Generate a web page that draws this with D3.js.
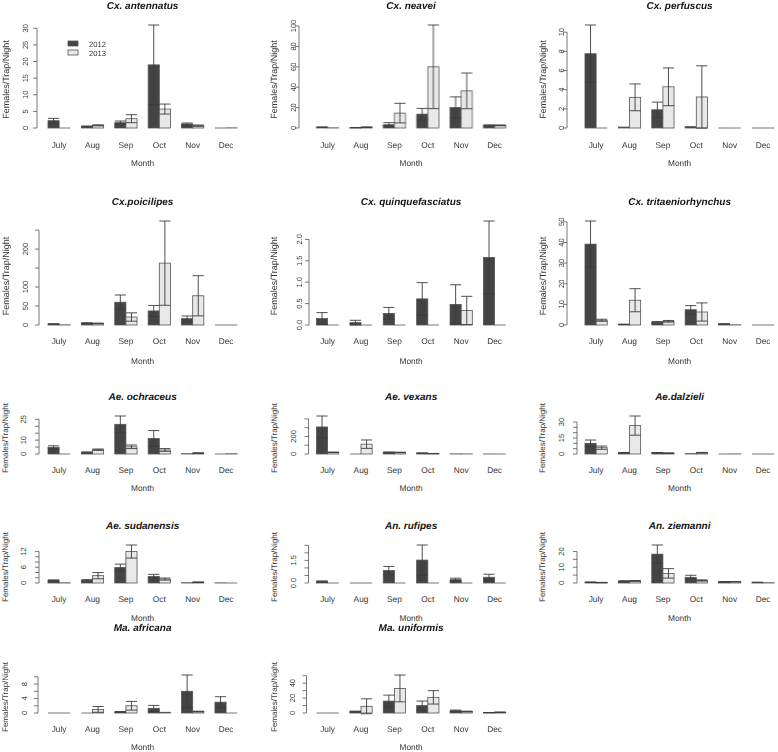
<!doctype html>
<html>
<head>
<meta charset="utf-8"/>
<script src="https://cdnjs.cloudflare.com/ajax/libs/d3/7.8.5/d3.min.js"></script>
<style>
  body { margin: 0; background: #fff; }
  text { font-family: "Liberation Sans", Arial, sans-serif; fill: #333; text-rendering: geometricPrecision; }
  .title { font-weight: bold; font-style: italic; font-size: 10px; fill: #111; }
  .tick-label { font-size: 7.5px; }
  .month { font-size: 8.3px; }
  .legend { font-size: 7.6px; }
  .axis-title { font-size: 8px; }
  .txt { opacity: 0.99; }
</style>
</head>
<body>
<svg id="chart" width="778" height="752"></svg>
<script>
var months = ["July", "Aug", "Sep", "Oct", "Nov", "Dec"];
var years = ["2012", "2013"];
var species = ["Cx. antennatus", "Cx. neavei", "Cx. perfuscus",
  "Cx.poicilipes", "Cx. quinquefasciatus", "Cx. tritaeniorhynchus",
  "Ae. ochraceus", "Ae. vexans", "Ae.dalzieli",
  "Ae. sudanensis", "An. rufipes", "An. ziemanni",
  "Ma. africana", "Ma. uniformis"];

// mean females/trap/night, July..Dec
var mean2012 = [
  [2.2, 0.5, 1.6, 19, 1.2, 0],
  [0.8, 0.3, 3.2, 13.6, 20, 2.6],
  [7.75, 0.1, 1.9, 0.15, 0, 0],
  [2.6, 5, 60, 37, 16.7, 0],
  [0.15, 0.055, 0.27, 0.61, 0.48, 1.58],
  [39.2, 0.3, 1.3, 7.4, 0.5, 0],
  [4.8, 1.2, 21.4, 11.2, 0.2, 0],
  [308, 0, 20, 10, 1, 0.5],
  [10, 1.2, 1.2, 0.3, 0, 0],
  [1, 1, 5.9, 2.5, 0.1, 0.05],
  [0.1, 0, 0.83, 1.52, 0.22, 0.38],
  [0.5, 1.2, 18.3, 3.6, 0.8, 0.4],
  [0, 0, 0.3, 1.3, 6, 3],
  [0, 2, 16, 10, 3, 0.5]
];
var mean2013 = [
  [0, 0.8, 2.8, 5.7, 0.7, 0.05],
  [0.2, 0.8, 14.6, 60, 36.4, 2.6],
  [0, 3.2, 4.3, 3.24, 0, 0],
  [0.5, 4, 21, 163, 77, 0],
  [0, 0, 0, 0, 0.34, 0],
  [2.3, 12, 1.8, 6.3, 0.1, 0],
  [0, 3.1, 5.2, 2.9, 0.7, 0.2],
  [19, 112, 18, 5, 1, 0],
  [5.9, 26.6, 0.8, 1.2, 0.1, 0],
  [0.1, 2.8, 12, 1.5, 0.3, 0],
  [0, 0, 0, 0, 0, 0],
  [0.3, 1.3, 6.1, 1.6, 0.8, 0.2],
  [0, 1, 2, 0.2, 0.4, 0],
  [0, 9, 33, 21, 2, 1]
];
// standard errors
var se2012 = [
  [0.7, 0.1, 0.5, 12, 0.3, 0],
  [0.2, 0.1, 2, 5.6, 10.5, 0.5],
  [3, 0, 0.8, 0, 0, 0],
  [0.5, 1, 19, 14.5, 7, 0],
  [0.14, 0.055, 0.14, 0.38, 0.46, 0.85],
  [11.2, 0.1, 0.4, 2, 0.1, 0],
  [1.1, 0.3, 6, 5.7, 0, 0],
  [125, 0, 3, 2, 0, 0],
  [3.1, 0.2, 0.2, 0, 0, 0],
  [0.2, 0.3, 1.3, 0.8, 0, 0],
  [0.04, 0, 0.27, 1.0, 0.1, 0.2],
  [0.1, 0.2, 5.8, 1.3, 0.1, 0.1],
  [0, 0, 0.1, 0.8, 4.5, 1.5],
  [0, 0.5, 8, 6, 1, 0.2]
];
var se2013 = [
  [0, 0.15, 1.2, 1.5, 0.2, 0],
  [0, 0.2, 9.6, 41, 17.5, 0.4],
  [0, 1.4, 1.97, 3.25, 0, 0],
  [0, 1, 11, 111, 53, 0],
  [0, 0, 0, 0, 0.33, 0],
  [0.5, 5.6, 0.4, 4.4, 0, 0],
  [0, 0.5, 1.3, 1, 0.1, 0],
  [3, 48, 3, 1, 0, 0],
  [1.5, 9, 0.1, 0.3, 0, 0],
  [0, 1.2, 2.5, 0.4, 0.1, 0],
  [0, 0, 0, 0, 0, 0],
  [0.1, 0.3, 3, 0.4, 0.1, 0],
  [0, 0.8, 1.2, 0, 0.1, 0],
  [0, 10, 18, 9, 0.5, 0.3]
];
// y ticks drawn, and the ones that carry a label
var yTicks = [
  [0, 5, 10, 15, 20, 25, 30],
  [0, 20, 40, 60, 80, 100],
  [0, 2, 4, 6, 8, 10],
  [0, 50, 100, 150, 200, 250],
  [0, 0.5, 1, 1.5, 2],
  [0, 10, 20, 30, 40, 50],
  [0, 5, 10, 15, 20, 25],
  [0, 100, 200, 300, 400],
  [0, 5, 10, 15, 20, 25, 30],
  [0, 2, 4, 6, 8, 10, 12],
  [0, 0.5, 1, 1.5, 2, 2.5],
  [0, 5, 10, 15, 20],
  [0, 2, 4, 6, 8, 10],
  [0, 10, 20, 30, 40, 50]
];
var yLabels = [
  [0, 5, 10, 15, 20, 25, 30],
  [0, 20, 40, 60, 80, 100],
  [0, 2, 4, 6, 8, 10],
  [0, 50, 100, 200],
  [0, 0.5, 1, 1.5, 2],
  [0, 10, 20, 30, 40, 50],
  [0, 10, 25],
  [0, 200],
  [0, 15, 30],
  [0, 6, 12],
  [0, 1.5],
  [0, 10, 20],
  [0, 4, 8],
  [0, 20, 40]
];
var decimals = [0, 0, 0, 0, 1, 0, 0, 0, 0, 0, 1, 0, 0, 0];

// layout
var colX = [0, 268.5, 537];
var rows = [
  {title: 8.5, y0: 128, top: 25, month: 148, xlab: 166, ylab: 9},
  {title: 205, y0: 325, top: 221, month: 344, xlab: 364, ylab: 9},
  {title: 400, y0: 454, top: 416, month: 473, xlab: 491, ylab: 8},
  {title: 529, y0: 583, top: 545, month: 602, xlab: 621, ylab: 8},
  {title: 631, y0: 713, top: 675, month: 732, xlab: 750, ylab: 8}
];
// [axis line offset, tick label centre offset] within the column
var axisPos = [[37, 25], [30.5, 24.5], [30, 24], [39, 25], [40.5, 30.5], [30, 24],
  [39, 23], [40, 24.5], [40, 24], [39, 23], [40, 24.5], [40, 24], [38, 24], [38, 24]];

var fills = {"2012": "#444444", "2013": "#e8e8e8"};
var barStroke = "#555";
var errColor = "#3c3c3c";

var svg = d3.select("#chart");

species.forEach(function(name, i) {
  var row = rows[Math.floor(i / 3)];
  var cx = colX[i % 3];
  var g = svg.append("g").attr("transform", "translate(" + cx + ",0)");

  var x = d3.scaleBand().domain(months).range([40.4, 244.8])
    .paddingInner(1 / 3).paddingOuter(0.227);
  var xs = d3.scaleBand().domain(years).range([0, x.bandwidth()]);

  var bars = [];
  months.forEach(function(m, j) {
    bars.push({month: m, year: "2012", v: mean2012[i][j], se: se2012[i][j]});
    bars.push({month: m, year: "2013", v: mean2013[i][j], se: se2013[i][j]});
  });
  var yMax = d3.max(bars, function(d) { return d.v + d.se; });
  var y = d3.scaleLinear().domain([0, yMax]).range([row.y0, row.top]);
  var bx = function(d) { return x(d.month) + xs(d.year); };

  var tg = g.append("g").attr("class", "txt");

  // title
  tg.append("text").attr("class", "title")
    .attr("x", (40.4 + 244.8) / 2).attr("y", row.title)
    .attr("text-anchor", "middle").text(name);

  // bars (zero bars show as a flat line, as in R)
  g.selectAll("rect.bar").data(bars.filter(function(d) { return d.v > 0; }))
    .enter().append("rect")
    .attr("class", "bar")
    .attr("x", bx)
    .attr("width", xs.bandwidth())
    .attr("y", function(d) { return y(d.v); })
    .attr("height", function(d) { return y(0) - y(d.v); })
    .attr("fill", function(d) { return fills[d.year]; })
    .attr("stroke", barStroke).attr("stroke-width", 0.8);
  g.selectAll("line.zero").data(bars.filter(function(d) { return d.v <= 0; }))
    .enter().append("line")
    .attr("class", "zero")
    .attr("x1", bx)
    .attr("x2", function(d) { return bx(d) + xs.bandwidth(); })
    .attr("y1", y(0)).attr("y2", y(0))
    .attr("stroke", barStroke).attr("stroke-width", 0.8);

  // error bars with caps at both ends
  var eb = g.selectAll("g.err").data(bars.filter(function(d) { return d.se > 0; }))
    .enter().append("g").attr("class", "err")
    .attr("stroke", errColor).attr("stroke-width", 0.9);
  eb.append("line")
    .attr("x1", function(d) { return bx(d) + xs.bandwidth() / 2; })
    .attr("x2", function(d) { return bx(d) + xs.bandwidth() / 2; })
    .attr("y1", function(d) { return y(d.v - d.se); })
    .attr("y2", function(d) { return y(d.v + d.se); });
  [1, -1].forEach(function(s) {
    eb.append("line")
      .attr("x1", bx)
      .attr("x2", function(d) { return bx(d) + xs.bandwidth(); })
      .attr("y1", function(d) { return y(d.v + s * d.se); })
      .attr("y2", function(d) { return y(d.v + s * d.se); });
  });

  // y axis, R style
  var ax = axisPos[i][0], lx = axisPos[i][1];
  var ticks = yTicks[i];
  g.append("line").attr("x1", ax).attr("x2", ax)
    .attr("y1", y(0)).attr("y2", y(d3.max(ticks)))
    .attr("stroke", "#555").attr("stroke-width", 0.8);
  g.selectAll("line.tk").data(ticks).enter().append("line")
    .attr("class", "tk")
    .attr("x1", ax - 4).attr("x2", ax)
    .attr("y1", function(d) { return y(d); }).attr("y2", function(d) { return y(d); })
    .attr("stroke", "#555").attr("stroke-width", 0.8);
  var fmt = d3.format("." + decimals[i] + "f");
  tg.selectAll("text.tick-label").data(yLabels[i]).enter().append("text")
    .attr("class", "tick-label")
    .attr("transform", function(d) { return "translate(" + lx + "," + y(d) + ") rotate(-90)"; })
    .attr("dy", "0.35em").attr("text-anchor", "middle")
    .text(function(d) { return fmt(d); });

  // y title
  tg.append("text").attr("class", "axis-title")
    .style("font-size", row.ylab + "px")
    .attr("transform", "translate(5.5," + ((row.y0 + row.top) / 2 + 3) + ") rotate(-90)")
    .attr("dy", "0.35em").attr("text-anchor", "middle")
    .text("Females/Trap/Night");

  // month labels
  tg.selectAll("text.month").data(months).enter().append("text")
    .attr("class", "month")
    .attr("x", function(d) { return x(d) + x.bandwidth() / 2; })
    .attr("y", row.month).attr("text-anchor", "middle")
    .text(function(d) { return d; });
  tg.append("text").attr("class", "month")
    .attr("x", (40.4 + 244.8) / 2).attr("y", row.xlab)
    .attr("text-anchor", "middle").text("Month");

  // legend on the first panel
  if (i === 0) {
    years.forEach(function(yr, k) {
      g.append("rect").attr("x", 68).attr("y", 41 + k * 9)
        .attr("width", 10).attr("height", 5)
        .attr("fill", fills[yr]).attr("stroke", barStroke).attr("stroke-width", 0.8);
      tg.append("text").attr("class", "legend")
        .attr("x", 89).attr("y", 46.5 + k * 9).text(yr);
    });
  }
});
</script>
</body>
</html>
